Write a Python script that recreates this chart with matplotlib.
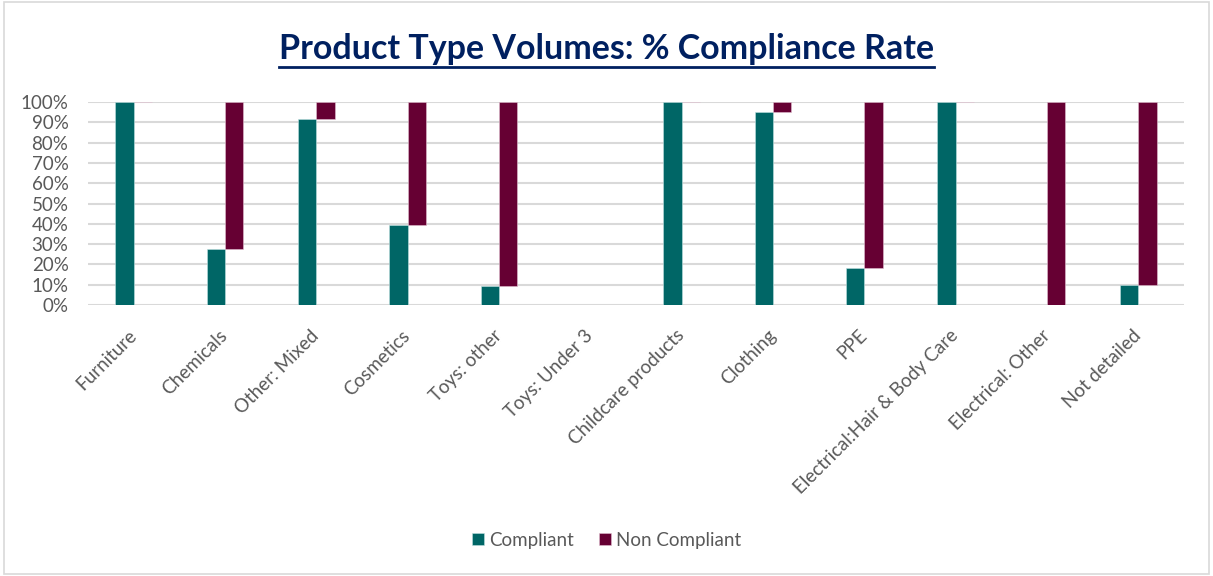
import numpy as np
import matplotlib
matplotlib.use("Agg")
import matplotlib.pyplot as plt
from matplotlib.patches import Rectangle
from matplotlib.lines import Line2D
from matplotlib.ticker import PercentFormatter

plt.rcParams['font.family'] = ['Lato', 'DejaVu Sans']

# data
categories = ['Furniture', 'Chemicals', 'Other: Mixed', 'Cosmetics', 'Toys: other',
              'Toys: Under 3', 'Childcare products', 'Clothing', 'PPE',
              'Electrical:Hair & Body Care', 'Electrical: Other', 'Not detailed']
compliant = np.array([100, 27.5, 91.7, 39.5, 9.5, 0, 100, 95, 18, 100, 0, 10]) / 100
non_compliant = np.array([0, 72.5, 8.3, 60.5, 90.5, 0, 0, 5, 82, 0, 100, 90]) / 100

teal = '#006666'
maroon = '#660033'
grey = '#595959'

fig = plt.figure(figsize=(12.13, 5.76), dpi=100)
ax = fig.add_axes([0.0725, 0.4705, 0.9036, 0.3524])

x = np.arange(len(categories))
ax.bar(x - 0.1, compliant, width=0.2, color=teal, edgecolor='#bfe0e0', linewidth=0.4,
       label='Compliant', zorder=3)
ax.bar(x + 0.1, non_compliant, width=0.2, bottom=compliant, color=maroon,
       edgecolor='#e0bfd0', linewidth=0.4, label='Non Compliant', zorder=3)

ax.set_xlim(-0.5, len(categories) - 0.5)
ax.set_ylim(0, 1)
ax.set_yticks(np.arange(0, 1.01, 0.1))
ax.yaxis.set_major_formatter(PercentFormatter(1.0, decimals=0))
ax.grid(axis='y', color='#d9d9d9', linewidth=1.5, zorder=0)
for s in ax.spines.values():
    s.set_visible(False)
ax.tick_params(axis='both', length=0, colors=grey, labelsize=13.5)
ax.tick_params(axis='y', pad=14)
ax.set_xticks(x)
ax.set_xticklabels(categories, rotation=45, ha='right', va='center',
                   rotation_mode='anchor')
ax.tick_params(axis='x', pad=20)

leg = fig.legend(loc='center', bbox_to_anchor=(0.5, 0.062), ncol=2, frameon=False,
                 fontsize=13.5, handlelength=0.65, handleheight=0.65, handletextpad=0.3,
                 columnspacing=1.3)
for t in leg.get_texts():
    t.set_color(grey)

title = fig.text(0.5, 0.915, 'Product Type Volumes: % Compliance Rate', ha='center',
                 va='center', fontsize=24.5, fontweight='bold', color='#002060')

# underline under the title
fig.canvas.draw()
bb = title.get_window_extent().transformed(fig.transFigure.inverted())
fig.add_artist(Line2D([bb.x0, bb.x1], [bb.y0 - 0.003, bb.y0 - 0.003],
                      color='#002060', linewidth=2))

# chart border
fig.add_artist(Rectangle((0.003, 0.003), 0.994, 0.994, transform=fig.transFigure,
                         fill=False, edgecolor='#d9d9d9', linewidth=1.2))

fig.savefig('out.png', dpi=100, facecolor='white')
